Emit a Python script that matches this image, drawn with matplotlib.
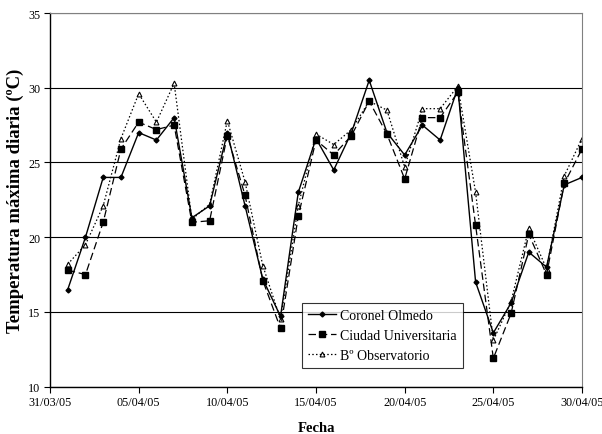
import matplotlib
matplotlib.use("Agg")
import matplotlib.pyplot as plt
import matplotlib.dates as mdates
import pandas as pd

plt.rcParams['font.family'] = ['Liberation Serif', 'DejaVu Serif']

# dias 01/04/05 .. 30/04/05
fechas = pd.date_range('2005-04-01', '2005-04-30', freq='D')

coronel_olmedo = [16.5, 20.0, 24.0, 24.0, 27.0, 26.5, 28.0, 21.3, 22.1, 27.0,
                  22.1, 17.2, 14.7, 23.0, 26.6, 24.5, 27.0, 30.5, 27.0, 25.5,
                  27.5, 26.5, 30.0, 17.0, 13.6, 15.6, 19.0, 18.0, 23.5, 24.0]
ciudad_univ = [17.8, 17.5, 21.0, 25.9, 27.7, 27.2, 27.5, 21.0, 21.1, 26.8,
               22.8, 17.1, 13.9, 21.4, 26.5, 25.5, 26.8, 29.1, 26.9, 23.9,
               28.0, 28.0, 29.7, 20.8, 11.9, 14.9, 20.2, 17.5, 23.6, 25.9]
observatorio = [18.2, 19.5, 22.1, 26.6, 29.6, 27.7, 30.3, 21.2, 22.2, 27.8,
                23.7, 18.1, 14.5, 22.1, 26.9, 26.2, 27.2, 29.1, 28.5, 24.7,
                28.6, 28.6, 30.1, 23.0, 13.1, 15.7, 20.6, 17.9, 24.1, 26.6]

tick_fechas = pd.to_datetime(['2005-03-31', '2005-04-05', '2005-04-10', '2005-04-15',
                              '2005-04-20', '2005-04-25', '2005-04-30'])

fig = plt.figure(figsize=(6.02, 4.35), dpi=100)
ax = fig.add_axes([50/602, 1 - 387.7/435, 532/602, 373.7/435])

ax.plot(fechas, coronel_olmedo, color='black', lw=1.0, ls='-',
        marker='D', ms=2.5, mfc='black', label='Coronel Olmedo', zorder=4)
ax.plot(fechas, ciudad_univ, color='black', lw=0.9, ls=(0, (6, 3)),
        marker='s', ms=5, mfc='black', label='Ciudad Universitaria', zorder=3)
ax.plot(fechas, observatorio, color='black', lw=0.9, ls=(0, (1.2, 1.8)),
        marker='^', ms=3.5, mfc='white', mew=0.8, label='Bº Observatorio', zorder=2)

ax.set_ylim(10, 35)
ax.set_yticks([10, 15, 20, 25, 30, 35])
ax.set_xlim(tick_fechas[0], tick_fechas[-1])
ax.set_xticks(tick_fechas)
ax.xaxis.set_major_formatter(mdates.DateFormatter('%d/%m/%y'))
ax.yaxis.grid(True, color='black', lw=0.8)
ax.set_axisbelow(True)

for s in ['top', 'right']:
    ax.spines[s].set_color('#808080')
for s in ['left', 'bottom']:
    ax.spines[s].set_linewidth(1.0)
ax.tick_params(direction='out', length=4, width=0.8, labelsize=8.7, pad=3)

ax.set_ylabel('Temperatura máxima diaria (ºC)', fontsize=13.5, fontweight='bold', labelpad=3)
ax.set_xlabel('Fecha', fontsize=10.5, fontweight='bold', labelpad=9)

leg = ax.legend(loc='lower left', bbox_to_anchor=((302 - 50)/532, (387.7 - 369)/373.7),
                borderaxespad=0, fontsize=10, frameon=True, fancybox=False,
                edgecolor='black', handlelength=2.0, borderpad=0.45,
                labelspacing=0.5, handletextpad=0.3)
leg.get_frame().set_linewidth(0.8)

fig.savefig('out.png', dpi=100)
